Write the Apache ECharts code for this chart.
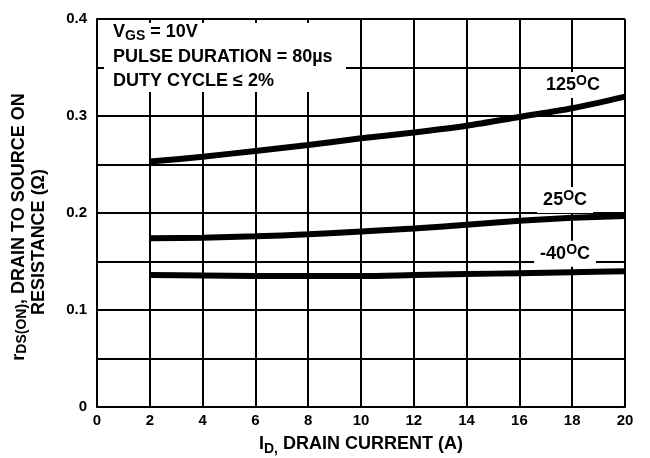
<!DOCTYPE html>
<html><head><meta charset="utf-8">
<script src="https://cdn.jsdelivr.net/npm/echarts@6/dist/echarts.min.js"></script>
<style>html,body{margin:0;padding:0;background:#fff}#c{width:650px;height:458px}</style>
</head><body><div id="c"></div>
<script>
var currents = [2, 4, 6, 8, 10, 12, 14, 16, 18, 20];
var r125 = [0.253, 0.258, 0.264, 0.270, 0.277, 0.283, 0.290, 0.299, 0.308, 0.320];
var r25  = [0.174, 0.1745, 0.176, 0.178, 0.181, 0.184, 0.188, 0.192, 0.195, 0.197];
var rm40 = [0.136, 0.1355, 0.135, 0.135, 0.135, 0.136, 0.137, 0.138, 0.139, 0.140];
var seriesNames = ['125', '25', '-40'];
var labelPos = [[18.03, 0.332], [17.73, 0.2135], [17.73, 0.158]];

var FONT = 'Liberation Sans';
function pairs(ys){ return currents.map(function(x,i){ return [x, ys[i]]; }); }
function mkSeries(name, ys, pos){
  return {
    type: 'line', name: name, data: pairs(ys), smooth: 0.3, showSymbol: false, symbol: 'none',
    lineStyle: {color: '#000', width: 6}, z: 5, silent: true,
    markPoint: {
      symbol: 'rect', symbolSize: 0, silent: true,
      data: [{coord: pos, value: name}],
      label: {
        show: true, position: 'inside',
        formatter: name + '{sup|O}C',
        color: '#000', fontFamily: FONT, fontWeight: 'bold', fontSize: 18,
        backgroundColor: '#fff', padding: [2, 6, 2, 6],
        rich: {sup: {fontSize: 14, fontWeight: 'bold', fontFamily: FONT, verticalAlign: 'top', padding: [0,0,8,0], color:'#000'}}
      }
    }
  };
}
var chart = echarts.init(document.getElementById('c'));
chart.setOption({
  animation: false,
  backgroundColor: '#fff',
  grid: {left: 97, right: 25, top: 19, bottom: 51, containLabel: false, outerBoundsMode: 'none'},
  xAxis: {
    type: 'value', min: 0, max: 20, interval: 2,
    name: 'I{sub|D,} DRAIN CURRENT (A)', nameLocation: 'middle', nameGap: 26,
    nameTextStyle: {color: '#000', fontFamily: FONT, fontWeight: 'bold', fontSize: 18,
      rich: {sub: {fontSize: 14, fontWeight: 'bold', fontFamily: FONT, verticalAlign: 'bottom', padding: [9,0,0,0], color:'#000'}}},
    axisLine: {lineStyle: {color: '#000', width: 2}},
    axisTick: {show: false},
    axisLabel: {color: '#000', fontFamily: FONT, fontWeight: 'bold', fontSize: 15, margin: 6},
    splitLine: {show: true, lineStyle: {color: '#000', width: 2}}
  },
  yAxis: {
    type: 'value', min: 0, max: 0.4, interval: 0.05,
    name: 'r{sub|DS(ON)}, DRAIN TO SOURCE ON\n{l2|RESISTANCE (Ω)}', nameLocation: 'middle', nameGap: 48, nameRotate: 90,
    nameTextStyle: {color: '#000', fontFamily: FONT, fontWeight: 'bold', fontSize: 18, lineHeight: 20, padding: [0, 28, 0, 0],
      rich: {
        sub: {fontSize: 14, fontWeight: 'bold', fontFamily: FONT, verticalAlign: 'bottom', padding: [9,0,0,0], color:'#000'},
        l2: {fontSize: 18, fontWeight: 'bold', fontFamily: FONT, lineHeight: 20, padding: [0,30,0,0], color:'#000'}
      }},
    axisLine: {show: true, lineStyle: {color: '#000', width: 2}},
    axisTick: {show: false},
    axisLabel: {color: '#000', fontFamily: FONT, fontWeight: 'bold', fontSize: 15, margin: 10,
      formatter: function(v){ var k = Math.round(v*100); return k % 10 === 0 ? String(k/100) : ''; }},
    splitLine: {show: true, lineStyle: {color: '#000', width: 2}}
  },
  graphic: [
    {type: 'rect', left: 104, top: 23, z: 10, shape: {width: 242, height: 69}, style: {fill: '#fff'}},
    {type: 'text', left: 113, top: 23, z: 11, style: {text: 'V{sub|GS} = 10V', fill: '#000', font: 'bold 18px "Liberation Sans"',
      rich: {sub: {fontSize: 14, fontWeight: 'bold', fontFamily: FONT, verticalAlign: 'bottom', padding: [8,0,0,0]}}}},
    {type: 'text', left: 113, top: 48, z: 11, style: {text: 'PULSE DURATION = 80µs', fill: '#000', font: 'bold 18px "Liberation Sans"'}},
    {type: 'text', left: 113, top: 72, z: 11, style: {text: 'DUTY CYCLE ≤ 2%', fill: '#000', font: 'bold 18px "Liberation Sans"'}}
  ],
  series: [mkSeries(seriesNames[0], r125, labelPos[0]), mkSeries(seriesNames[1], r25, labelPos[1]), mkSeries(seriesNames[2], rm40, labelPos[2])]
});
</script></body></html>
